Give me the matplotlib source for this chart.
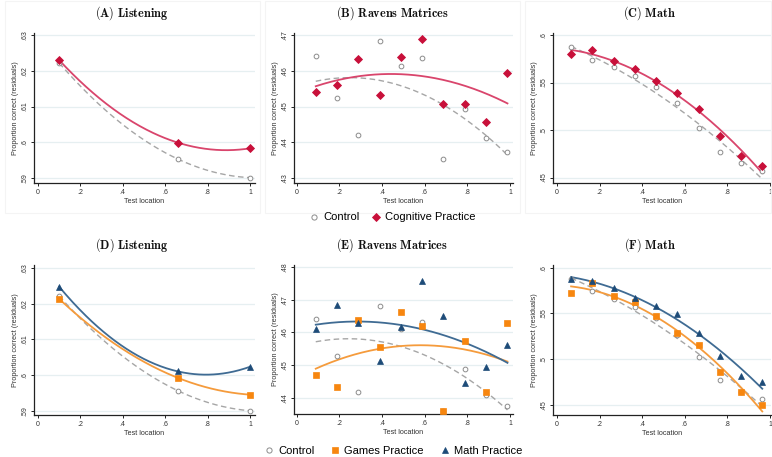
"""Test-location curves: control vs practice arms, six panels."""

import matplotlib

matplotlib.use("Agg")
import matplotlib.pyplot as plt  # noqa: E402
import numpy as np  # noqa: E402
from matplotlib.lines import Line2D  # noqa: E402
from matplotlib.patches import Rectangle  # noqa: E402
from matplotlib.ticker import FuncFormatter  # noqa: E402

plt.rcParams["font.family"] = ["Liberation Sans", "DejaVu Sans"]
plt.rcParams["mathtext.fontset"] = "cm"

# ---- data ------------------------------------------------------------------
listen_x = [0.1, 0.66, 1.0]
ravens_x = [0.089, 0.189, 0.289, 0.389, 0.488, 0.589, 0.688, 0.788, 0.886, 0.988]
math_x = [0.066, 0.166, 0.266, 0.365, 0.464, 0.565, 0.665, 0.764, 0.864, 0.964]

# top row: control vs cognitive practice
a_control = [0.6222, 0.5953, 0.5901]
a_cognitive = [0.6230, 0.5999, 0.5983]
b_control = [0.4643, 0.4523, 0.4419, 0.4683, 0.4614, 0.4635, 0.4354, 0.4494, 0.4413, 0.4374]
b_cognitive = [0.4540, 0.4559, 0.4634, 0.4533, 0.4639, 0.4689, 0.4506, 0.4508, 0.4458, 0.4594]
c_control = [0.5876, 0.5735, 0.5661, 0.5566, 0.5450, 0.5287, 0.5026, 0.4772, 0.4656, 0.4567]
c_cognitive = [0.5795, 0.5845, 0.5725, 0.5647, 0.5520, 0.5386, 0.5217, 0.4938, 0.4726, 0.4624]

# bottom row: control vs games practice vs math practice
d_control = [0.6221, 0.5956, 0.5900]
d_games = [0.6213, 0.5992, 0.5945]
d_math = [0.6247, 0.6010, 0.6023]
e_control = [0.4640, 0.4529, 0.4419, 0.4681, 0.4610, 0.4631, 0.4360, 0.4489, 0.4409, 0.4374]
e_games = [0.4469, 0.4432, 0.4638, 0.4555, 0.4662, 0.4621, 0.4360, 0.4573, 0.4419, 0.4629]
e_math = [0.4610, 0.4685, 0.4629, 0.4512, 0.4617, 0.4757, 0.4652, 0.4444, 0.4494, 0.4561]
f_control = [0.5880, 0.5741, 0.5657, 0.5574, 0.5446, 0.5263, 0.5026, 0.4774, 0.4643, 0.4571]
f_games = [0.5720, 0.5832, 0.5686, 0.5628, 0.5468, 0.5283, 0.5159, 0.4857, 0.4643, 0.4501]
f_math = [0.5880, 0.5858, 0.5774, 0.5672, 0.5577, 0.5497, 0.5283, 0.5032, 0.4820, 0.4755]

listen_ticks = [0.59, 0.60, 0.61, 0.62, 0.63]
ravens_top_ticks = [0.43, 0.44, 0.45, 0.46, 0.47]
ravens_bot_ticks = [0.44, 0.45, 0.46, 0.47, 0.48]
math_ticks = [0.45, 0.50, 0.55, 0.60]
x_ticks = [0, 0.2, 0.4, 0.6, 0.8, 1.0]

# ---- styles ----------------------------------------------------------------
CONTROL = {"marker": "o", "mfc": "white", "mec": "#8c8c8c", "ms": 3.4, "mew": 0.7,
           "line": "#a6a6a6", "ls": (0, (4, 2.5))}
COGNITIVE = {"marker": "D", "mfc": "#c8103a", "mec": "#c8103a", "ms": 3.7, "mew": 0.6,
             "line": "#d9456c", "ls": "-"}
GAMES = {"marker": "s", "mfc": "#f7860f", "mec": "#f7860f", "ms": 3.9, "mew": 0.5,
         "line": "#f59b3c", "ls": "-"}
MATHP = {"marker": "^", "mfc": "#1d4b78", "mec": "#1d4b78", "ms": 4.3, "mew": 0.5,
         "line": "#3f6b93", "ls": "-"}
GRID = "#e6eff1"


def strip_zero(v, _pos=None):
    s = f"{v:.2f}".rstrip("0").rstrip(".")
    if s.startswith("0."):
        s = s[1:]
    return s


def draw_series(ax, x, y, style):
    x = np.asarray(x)
    y = np.asarray(y)
    coef = np.polyfit(x, y, 2)
    xs = np.linspace(x.min(), x.max(), 200)
    lw = 1.0 if style is CONTROL else 1.3
    ax.plot(xs, np.polyval(coef, xs), color=style["line"], ls=style["ls"], lw=lw, zorder=2)
    ax.plot(x, y, ls="none", marker=style["marker"], mfc=style["mfc"], mec=style["mec"],
            ms=style["ms"], mew=style["mew"], zorder=3)


def style_axes(ax, yticks, ylim, xlim):
    ax.set_xlim(*xlim)
    ax.set_ylim(*ylim)
    ax.set_yticks(yticks)
    ax.set_xticks(x_ticks)
    ax.xaxis.set_major_formatter(FuncFormatter(strip_zero))
    ax.yaxis.set_major_formatter(FuncFormatter(strip_zero))
    for lbl in ax.get_yticklabels():
        lbl.set_rotation(90)
        lbl.set_va("center")
    ax.tick_params(labelsize=5, length=2.5, width=0.7, color="#222222", pad=1.5,
                   labelcolor="#333333")
    ax.grid(axis="y", color=GRID, lw=0.9)
    ax.set_axisbelow(True)
    for side in ("top", "right"):
        ax.spines[side].set_visible(False)
    for side in ("left", "bottom"):
        ax.spines[side].set_linewidth(0.9)
        ax.spines[side].set_color("#222222")
    ax.set_xlabel("Test location", fontsize=5.2, color="#333333", labelpad=2)
    ax.set_ylabel("Proportion correct (residuals)", fontsize=5.2, color="#333333", labelpad=2)


W, H = 772, 457
fig = plt.figure(figsize=(W / 100, H / 100), dpi=100)


def px_axes(left, top, right, bottom):
    return fig.add_axes([left / W, 1 - bottom / H, (right - left) / W, (bottom - top) / H])


# faint panel frames (top row)
for x0, x1 in [(5, 260), (265, 520), (525, 771)]:
    fig.patches.append(Rectangle((x0 / W, 1 - 213 / H), (x1 - x0) / W, 212 / H,
                                 transform=fig.transFigure, fill=False,
                                 ec="#f4f4f4", lw=0.8, zorder=0))

panels = [
    ("(A)\\ Listening", (34, 33, 255, 183), listen_x,
     [(a_control, CONTROL), (a_cognitive, COGNITIVE)],
     listen_ticks, (0.5886, 0.6306), (-0.019, 1.024), 132),
    ("(B)\\ Ravens\\ Matrices", (294, 33, 513, 183), ravens_x,
     [(b_control, CONTROL), (b_cognitive, COGNITIVE)],
     ravens_top_ticks, (0.4286, 0.4706), (-0.013, 1.014), 392),
    ("(C)\\ Math", (553, 33, 771, 183), math_x,
     [(c_control, CONTROL), (c_cognitive, COGNITIVE)],
     math_ticks, (0.4443, 0.6021), (-0.019, 1.005), 650),
    ("(D)\\ Listening", (34, 265, 255, 415), listen_x,
     [(d_control, CONTROL), (d_games, GAMES), (d_math, MATHP)],
     listen_ticks, (0.5888, 0.6308), (-0.019, 1.024), 132),
    ("(E)\\ Ravens\\ Matrices", (294, 265, 513, 414), ravens_x,
     [(e_control, CONTROL), (e_games, GAMES), (e_math, MATHP)],
     ravens_bot_ticks, (0.4350, 0.4807), (-0.013, 1.014), 392),
    ("(F)\\ Math", (553, 265, 771, 415), math_x,
     [(f_control, CONTROL), (f_games, GAMES), (f_math, MATHP)],
     math_ticks, (0.4391, 0.6029), (-0.019, 1.005), 650),
]

for i, (title, box, xs, series, yt, ylim, xlim, tx) in enumerate(panels):
    ax = px_axes(*box)
    for ys, st in series:
        draw_series(ax, xs, ys, st)
    style_axes(ax, yt, ylim, xlim)
    ty = 13 if i < 3 else 245
    fig.text(tx / W, 1 - ty / H, rf"$\mathbf{{{title}}}$", ha="center", va="center",
             fontsize=8.8, color="#111111")


def handle(style):
    return Line2D([], [], ls="none", marker=style["marker"], mfc=style["mfc"],
                  mec=style["mec"], ms=style["ms"] * 1.1, mew=style["mew"])


fig.legend([handle(CONTROL), handle(COGNITIVE)], ["Control", "Cognitive Practice"],
           loc="center", bbox_to_anchor=(393 / W, 1 - 217.5 / H), ncol=2, frameon=False,
           fontsize=8, handlelength=0.6, handletextpad=0.5, columnspacing=1.2,
           borderpad=0)
fig.legend([handle(CONTROL), handle(GAMES), handle(MATHP)],
           ["Control", "Games Practice", "Math Practice"],
           loc="center", bbox_to_anchor=(394 / W, 1 - 450.5 / H), ncol=3, frameon=False,
           fontsize=8, handlelength=0.6, handletextpad=0.5, columnspacing=1.6,
           borderpad=0)

fig.savefig("out.png", dpi=100)
